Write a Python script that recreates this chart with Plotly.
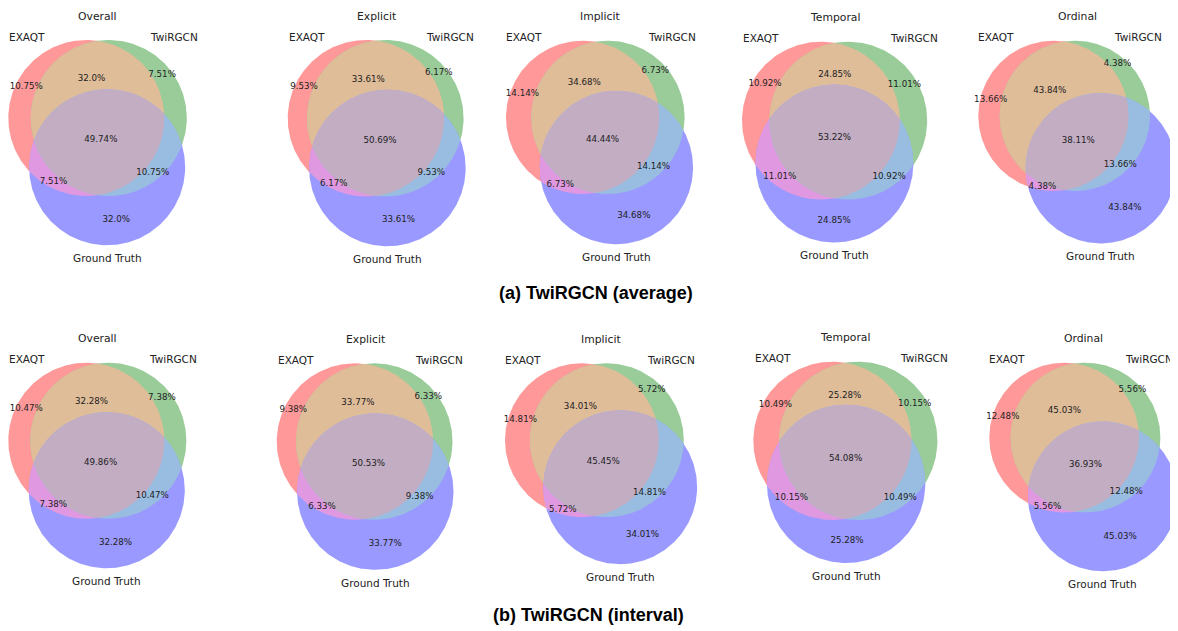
import numpy as np
import plotly.graph_objects as go
from math import acos, sqrt, pi

# ---------------- data ----------------
panel_titles = ["Overall", "Explicit", "Implicit", "Temporal", "Ordinal"]
set_labels = ["EXAQT", "TwiRGCN", "Ground Truth"]
row_captions = ["(a) TwiRGCN (average)", "(b) TwiRGCN (interval)"]

# region order: EXAQT only, TwiRGCN only, EXAQT&TwiRGCN, GT only, EXAQT&GT, TwiRGCN&GT, all three
average_overall = [10.75, 7.51, 32.0, 32.0, 7.51, 10.75, 49.74]
average_explicit = [9.53, 6.17, 33.61, 33.61, 6.17, 9.53, 50.69]
average_implicit = [14.14, 6.73, 34.68, 34.68, 6.73, 14.14, 44.44]
average_temporal = [10.92, 11.01, 24.85, 24.85, 11.01, 10.92, 53.22]
average_ordinal = [13.66, 4.38, 43.84, 43.84, 4.38, 13.66, 38.11]

interval_overall = [10.47, 7.38, 32.28, 32.28, 7.38, 10.47, 49.86]
interval_explicit = [9.38, 6.33, 33.77, 33.77, 6.33, 9.38, 50.53]
interval_implicit = [14.81, 5.72, 34.01, 34.01, 5.72, 14.81, 45.45]
interval_temporal = [10.49, 10.15, 25.28, 25.28, 10.15, 10.49, 54.08]
interval_ordinal = [12.48, 5.56, 45.03, 45.03, 5.56, 12.48, 36.93]

rows = [
    [average_overall, average_explicit, average_implicit, average_temporal, average_ordinal],
    [interval_overall, interval_explicit, interval_implicit, interval_temporal, interval_ordinal],
]

# ---------------- layout / style ----------------
PAGE_OFF = 8          # browser body margin
W, H = 1178 - PAGE_OFF, 631 - PAGE_OFF
SCALE = 169.5         # px per normalised unit
panel_left_px = [[8.3, 287.7, 506.0, 742.0, 978.3], [8.3, 276.7, 505.0, 753.3, 989.3]]
panel_top_px = [[40.0, 40.0, 40.7, 41.7, 40.7], [362.7, 363.3, 363.3, 361.7, 362.7]]
slot_x = [(8, 240), (240, 490), (490, 730), (730, 965), (965, 1178)]
slot_y = [(8, 284), (316, 602)]
caption_pos = [(595.5, 293.0), (588.0, 615.0)]

FONT = "DejaVu Sans"
TEXT_COLOR = "#222222"
# matplotlib-venn style: r/g/b at alpha 0.4 on white, overlaps use mixed colours
region_colors = {
    "A": "rgb(255,153,153)", "B": "rgb(153,204,153)", "C": "rgb(153,153,255)",
    "AB": "rgb(224,189,153)", "AC": "rgb(224,153,224)", "BC": "rgb(153,189,224)",
    "ABC": "rgb(194,173,194)",
}
REGION_MEMBERSHIP = [(1, 0, 0), (0, 1, 0), (1, 1, 0), (0, 0, 1), (1, 0, 1), (0, 1, 1), (1, 1, 1)]


# ---------------- venn3 geometry ----------------
def circle_intersection_area(R, r, d):
    if d >= R + r:
        return 0.0
    if d <= abs(R - r):
        return pi * min(R, r) ** 2
    x1 = max(-1.0, min(1.0, (d * d + R * R - r * r) / (2 * d * R)))
    x2 = max(-1.0, min(1.0, (d * d + r * r - R * R) / (2 * d * r)))
    k = (-d + r + R) * (d + r - R) * (d - r + R) * (d + r + R)
    return R * R * acos(x1) + r * r * acos(x2) - 0.5 * sqrt(max(k, 0.0))


def find_distance_by_area(r, R, a):
    lo, hi = abs(R - r), R + r
    for _ in range(200):
        mid = 0.5 * (lo + hi)
        if circle_intersection_area(r, R, mid) > a:
            lo = mid
        else:
            hi = mid
    return 0.5 * (lo + hi)


def venn3_layout(subsets):
    a = np.array(subsets, float)
    a = a / a.sum()
    A_a = a[0] + a[2] + a[4] + a[6]
    A_b = a[1] + a[2] + a[5] + a[6]
    A_c = a[3] + a[4] + a[5] + a[6]
    A_ab, A_bc, A_ac = a[2] + a[6], a[5] + a[6], a[4] + a[6]
    radii = np.sqrt(np.array([A_a, A_b, A_c]) / pi)
    d_ab = find_distance_by_area(radii[0], radii[1], A_ab)
    d_bc = find_distance_by_area(radii[1], radii[2], A_bc)
    d_ac = find_distance_by_area(radii[0], radii[2], A_ac)
    cx = (d_ac ** 2 - d_bc ** 2 + d_ab ** 2) / (2 * d_ab)
    cy = -sqrt(max(d_ac ** 2 - cx ** 2, 0.0))
    centers = np.array([[0.0, 0.0], [d_ab, 0.0], [cx, cy]])
    w = radii ** 2
    centers = centers - (w @ centers) / w.sum()
    return centers, radii


def circle_points(c, r, n=400):
    t = np.linspace(0, 2 * pi, n)
    return c[0] + r * np.cos(t), c[1] + r * np.sin(t)


def convex_intersection(cs, rs, n=1440):
    pts = []
    for i in range(len(cs)):
        t = np.linspace(0, 2 * pi, n, endpoint=False)
        p = np.stack([cs[i][0] + rs[i] * np.cos(t), cs[i][1] + rs[i] * np.sin(t)], 1)
        keep = np.ones(len(p), bool)
        for j in range(len(cs)):
            if j != i:
                keep &= np.hypot(p[:, 0] - cs[j][0], p[:, 1] - cs[j][1]) <= rs[j] + 1e-12
        pts.append(p[keep])
    for i in range(len(cs)):
        for j in range(i + 1, len(cs)):
            c1, c2, r1, r2 = cs[i], cs[j], rs[i], rs[j]
            d = np.hypot(*(c2 - c1))
            if d >= r1 + r2 or d <= abs(r1 - r2):
                continue
            aa = (r1 * r1 - r2 * r2 + d * d) / (2 * d)
            h = sqrt(max(r1 * r1 - aa * aa, 0))
            u = (c2 - c1) / d
            m = c1 + aa * u
            perp = np.array([-u[1], u[0]])
            for q in (m + h * perp, m - h * perp):
                if all(np.hypot(*(q - cs[k])) <= rs[k] + 1e-9 for k in range(len(cs)) if k not in (i, j)):
                    pts.append(q[None, :])
    P = np.concatenate(pts, 0)
    ctr = P.mean(0)
    P = P[np.argsort(np.arctan2(P[:, 1] - ctr[1], P[:, 0] - ctr[0]))]
    P = np.vstack([P, P[:1]])
    return P[:, 0], P[:, 1]


def membership(P, centers, radii):
    return [np.hypot(P[:, 0] - c[0], P[:, 1] - c[1]) < r for c, r in zip(centers, radii)]


def area_centroid(centers, radii, m, n=700):
    xmin = (centers[:, 0] - radii).min(); xmax = (centers[:, 0] + radii).max()
    ymin = (centers[:, 1] - radii).min(); ymax = (centers[:, 1] + radii).max()
    X, Y = np.meshgrid(np.linspace(xmin, xmax, n), np.linspace(ymin, ymax, n))
    P = np.stack([X.ravel(), Y.ravel()], 1)
    mem = membership(P, centers, radii)
    mask = np.ones(len(P), bool)
    for j in range(3):
        mask &= (mem[j] == bool(m[j]))
    return P[mask, 0].mean(), P[mask, 1].mean()


def arc_ray_label(centers, radii, m, n=3600):
    """Midpoint of the region's longest boundary arc, ray into the region, label halfway to the exit."""
    t = np.linspace(0, 2 * pi, n, endpoint=False)
    best = None
    for i in range(3):
        P = centers[i] + radii[i] * np.stack([np.cos(t), np.sin(t)], 1)
        mem = membership(P, centers, radii)
        ok = np.ones(n, bool)
        for j in range(3):
            if j != i:
                ok &= (mem[j] == bool(m[j]))
        if not ok.any() or ok.all():
            continue
        f = int(np.where(~ok)[0][0])
        rolled = np.roll(ok, -f)
        s = 0
        while s < n:
            if rolled[s]:
                e = s
                while e < n and rolled[e]:
                    e += 1
                L = e - s
                span = L * radii[i]
                if best is None or span > best[0]:
                    mid_idx = (s + f + (L - 1) / 2.0) % n
                    best = (span, i, mid_idx * 2 * pi / n)
                s = e
            else:
                s += 1
    _, i, ang = best
    M = centers[i] + radii[i] * np.array([np.cos(ang), np.sin(ang)])
    d = (centers[i] - M) / radii[i] if m[i] else (M - centers[i]) / radii[i]
    ts = np.linspace(0, 4 * radii.max(), 8000)[1:]
    P = M + ts[:, None] * d
    mem = membership(P, centers, radii)
    inreg = np.ones(len(P), bool)
    for j in range(3):
        inreg &= (mem[j] == bool(m[j]))
    k = int(np.argmax(~inreg)) if (~inreg).any() else len(ts) - 1
    p = M + d * ts[k] / 2
    return p[0], p[1]


def region_label_points(centers, radii):
    out = []
    for m in REGION_MEMBERSHIP:
        if m[0] and m[1]:
            out.append(area_centroid(centers, radii, m))
        else:
            out.append(arc_ray_label(centers, radii, m))
    return out


# ---------------- figure ----------------
fig = go.Figure()
layout_axes = {}
annotations = []
k = 0
for ri, row in enumerate(rows):
    for ci, subsets in enumerate(row):
        k += 1
        sfx = "" if k == 1 else str(k)
        xa, ya = "x" + sfx, "y" + sfx
        centers, radii = venn3_layout(subsets)
        minx = (centers[:, 0] - radii).min(); maxx = (centers[:, 0] + radii).max()
        miny = (centers[:, 1] - radii).min(); maxy = (centers[:, 1] + radii).max()
        left, top = panel_left_px[ri][ci], panel_top_px[ri][ci]
        sx0, sx1 = slot_x[ci]
        sy0, sy1 = slot_y[ri]
        xr = [minx + (sx0 - left) / SCALE, minx + (sx1 - left) / SCALE]
        yr = [maxy - (sy1 - top) / SCALE, maxy - (sy0 - top) / SCALE]
        fx0, fx1 = (sx0 - PAGE_OFF) / W, (sx1 - PAGE_OFF) / W
        fy0, fy1 = 1 - (sy1 - PAGE_OFF) / H, 1 - (sy0 - PAGE_OFF) / H
        layout_axes["xaxis" + sfx] = dict(domain=[fx0, fx1], range=xr, visible=False,
                                          fixedrange=True, anchor=ya)
        layout_axes["yaxis" + sfx] = dict(domain=[fy0, fy1], range=yr, visible=False,
                                          fixedrange=True, anchor=xa)

        def add_fill(px_, py_, col):
            fig.add_trace(go.Scatter(x=px_, y=py_, mode="lines", fill="toself", fillcolor=col,
                                     line=dict(width=0, color=col), hoverinfo="skip",
                                     xaxis=xa, yaxis=ya, showlegend=False))

        for key, i in (("A", 0), ("B", 1), ("C", 2)):
            cxp, cyp = circle_points(centers[i], radii[i])
            add_fill(cxp, cyp, region_colors[key])
        for key, idx in (("AB", [0, 1]), ("AC", [0, 2]), ("BC", [1, 2]), ("ABC", [0, 1, 2])):
            px_, py_ = convex_intersection(centers[idx], radii[idx])
            add_fill(px_, py_, region_colors[key])

        lp = region_label_points(centers, radii)
        fig.add_trace(go.Scatter(
            x=[p[0] for p in lp], y=[p[1] for p in lp], mode="text",
            text=[f"{v}%" for v in subsets], textposition="middle center",
            textfont=dict(family=FONT, size=8.7, color=TEXT_COLOR),
            hoverinfo="skip", xaxis=xa, yaxis=ya, showlegend=False, cliponaxis=False))

        annotations.append(dict(x=centers[0, 0] - radii[0] / 2, y=centers[0, 1] + radii[0] + 0.02,
                                xref=xa, yref=ya, text=set_labels[0], showarrow=False,
                                xanchor="right", yanchor="middle",
                                font=dict(family=FONT, size=10.5, color=TEXT_COLOR)))
        annotations.append(dict(x=centers[1, 0] + radii[1] / 2, y=centers[1, 1] + radii[1] + 0.02,
                                xref=xa, yref=ya, text=set_labels[1], showarrow=False,
                                xanchor="left", yanchor="middle",
                                font=dict(family=FONT, size=10.5, color=TEXT_COLOR)))
        annotations.append(dict(x=centers[2, 0], y=centers[2, 1] - radii[2] - 0.076,
                                xref=xa, yref=ya, text=set_labels[2], showarrow=False,
                                xanchor="center", yanchor="middle",
                                font=dict(family=FONT, size=10.5, color=TEXT_COLOR)))
        annotations.append(dict(x=(minx + maxx) / 2, y=maxy + 0.1 + 0.04,
                                xref=xa, yref=ya, text=panel_titles[ci], showarrow=False,
                                xanchor="center", yanchor="middle",
                                font=dict(family=FONT, size=10.8, color=TEXT_COLOR)))

for (cx_, cy_), cap in zip(caption_pos, row_captions):
    annotations.append(dict(x=(cx_ - PAGE_OFF) / W, y=1 - (cy_ - PAGE_OFF) / H, xref="paper", yref="paper",
                            text="<b>" + cap + "</b>", showarrow=False, xanchor="center", yanchor="middle",
                            font=dict(family="Liberation Sans, Arial", size=18, color="#000000")))

fig.update_layout(width=W, height=H, margin=dict(l=0, r=0, t=0, b=0, pad=0),
                  paper_bgcolor="white", plot_bgcolor="white", showlegend=False,
                  annotations=annotations, **layout_axes)

fig.write_html("out.html")
